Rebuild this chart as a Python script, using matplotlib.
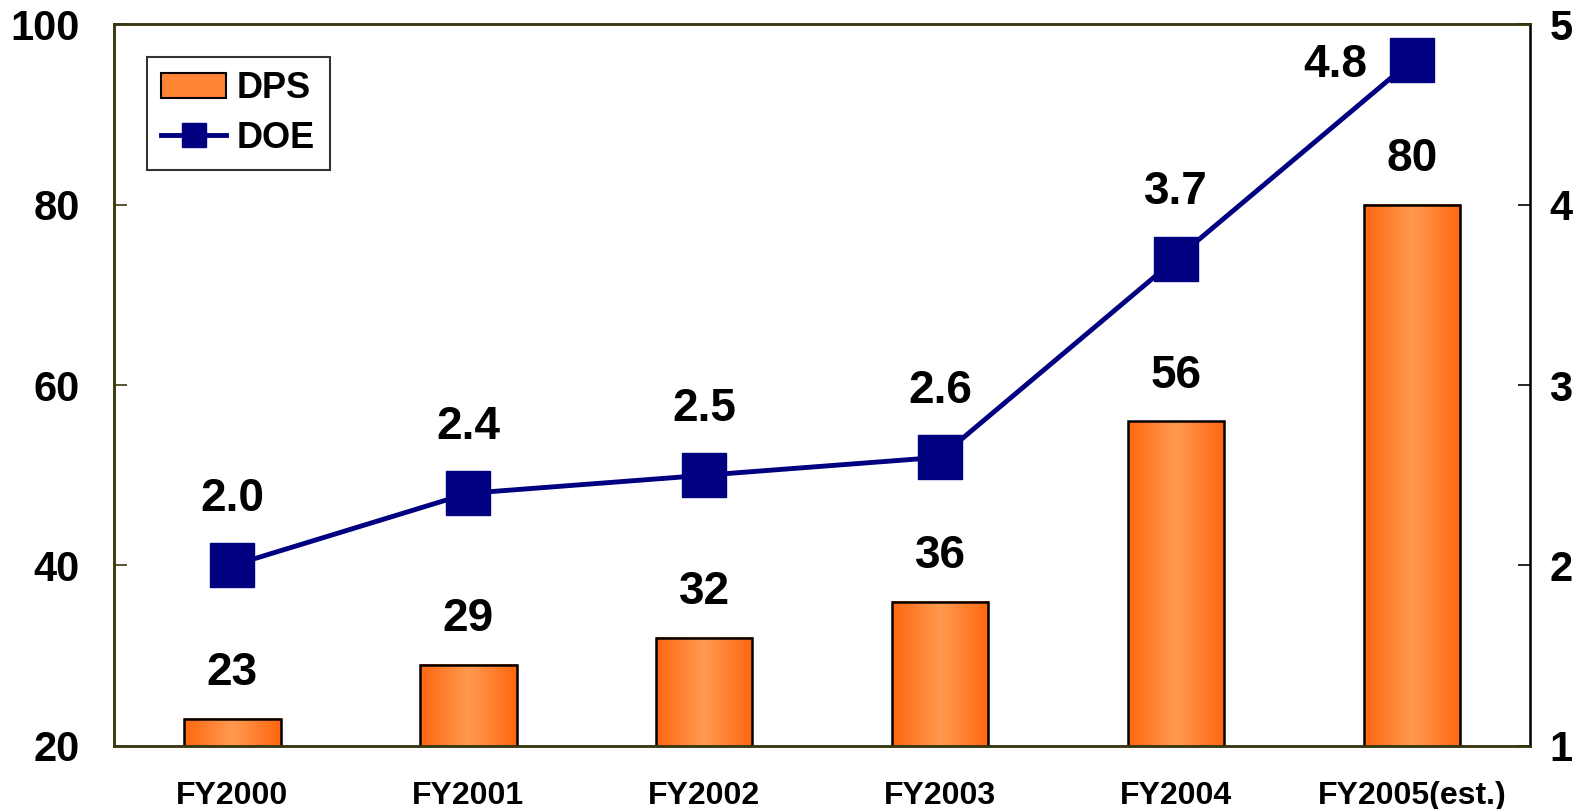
import numpy as np
import matplotlib.pyplot as plt
from matplotlib.colors import LinearSegmentedColormap
from matplotlib.patches import Patch
from matplotlib.lines import Line2D

plt.rcParams['font.family'] = ['Liberation Sans', 'DejaVu Sans']
plt.rcParams['font.weight'] = 'bold'

# data
years = ["FY2000", "FY2001", "FY2002", "FY2003", "FY2004", "FY2005(est.)"]
dps = [23, 29, 32, 36, 56, 80]
doe = [2.0, 2.4, 2.5, 2.6, 3.7, 4.8]

spine_col = '#3a3810'
navy = '#000080'
bar_w = 0.41

fig = plt.figure(figsize=(15.87, 8.09), dpi=100)
ax = fig.add_axes([0.072, 0.078, 0.892, 0.892])
ax2 = ax.twinx()

x = np.arange(len(years))

# orange horizontal gradient for the bars
grad = LinearSegmentedColormap.from_list(
    'bar', [(0, '#ff6610'), (0.5, '#ff9a50'), (1, '#ff6610')])
g = np.linspace(0, 1, 256).reshape(1, -1)

ax.bar(x, dps, bar_w, bottom=0, facecolor='none', edgecolor='black',
       linewidth=1.8, zorder=3)
for xi, v in zip(x, dps):
    ax.imshow(g, cmap=grad, aspect='auto', zorder=2,
              extent=(xi - bar_w / 2, xi + bar_w / 2, 20, v))
    ax.annotate(f"{v}", (xi, v), xytext=(0, 17), textcoords='offset points',
                ha='center', va='bottom', fontsize=33, fontweight='bold')

ax.set_xlim(-0.5, len(years) - 0.5)
ax.set_ylim(20, 100)
ax.set_yticks([20, 40, 60, 80, 100])
ax.set_xticks(x)
ax.set_xticklabels(years, fontsize=23, fontweight='bold')
ax.tick_params(axis='x', length=0, pad=25)
ax.tick_params(axis='y', direction='in', length=9, width=1.2,
               labelsize=30, pad=25, color=spine_col)
for lbl in ax.get_yticklabels():
    lbl.set_fontweight('bold')

ax2.plot(x, doe, color=navy, linewidth=3.5, marker='s', markersize=31,
         zorder=5)
for xi, v in zip(x[:-1], doe[:-1]):
    ax2.annotate(f"{v:.1f}", (xi, v), xytext=(0, 32), textcoords='offset points',
                 ha='center', va='bottom', fontsize=33, fontweight='bold')
# last point sits at the top edge, so its label goes to the left
ax2.annotate(f"{doe[-1]:.1f}", (x[-1], doe[-1]), xytext=(-32, -3),
             textcoords='offset points', ha='right', va='center',
             fontsize=33, fontweight='bold')
ax2.set_ylim(1, 5)
ax2.set_yticks([1, 2, 3, 4, 5])
ax2.tick_params(axis='y', direction='in', length=9, width=1.2,
                labelsize=30, pad=14)
for lbl in ax2.get_yticklabels():
    lbl.set_fontweight('bold')

for name in ['left', 'bottom', 'top']:
    ax.spines[name].set_color(spine_col)
    ax.spines[name].set_linewidth(1.8)
    ax2.spines[name].set_color(spine_col)
    ax2.spines[name].set_linewidth(1.8)
ax2.spines['right'].set_color('black')
ax2.spines['right'].set_linewidth(1.8)

handles = [Patch(facecolor='#ff8434', edgecolor='black', linewidth=1.5),
           Line2D([], [], color=navy, linewidth=3.5, marker='s', markersize=17)]
leg = ax2.legend(handles, ['DPS', 'DOE'], loc='upper left',
                 bbox_to_anchor=(0.023, 0.955), borderaxespad=0,
                 fontsize=26, frameon=True, fancybox=False, edgecolor='black',
                 handlelength=1.8, handleheight=0.65, borderpad=0.4,
                 labelspacing=0.4, handletextpad=0.3)
leg.get_frame().set_linewidth(1.5)
for t in leg.get_texts():
    t.set_fontweight('bold')

fig.savefig('out.png', dpi=100)
